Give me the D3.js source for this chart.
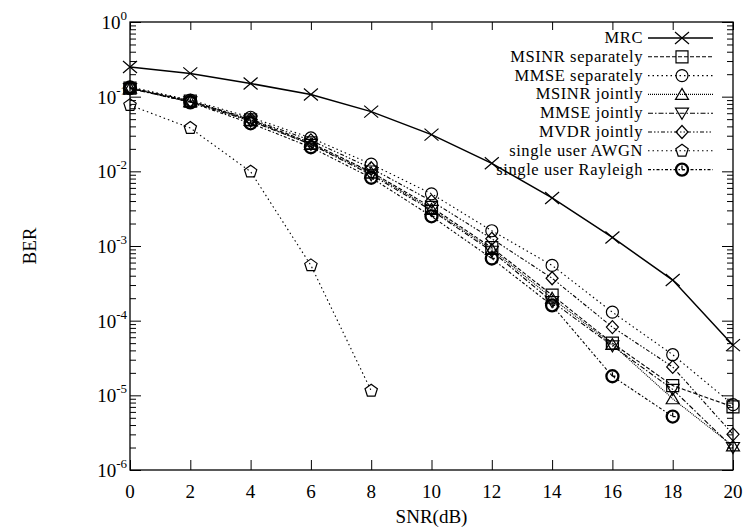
<!DOCTYPE html>
<html lang="en">
<head>
  <meta charset="UTF-8">
  <title>BER vs SNR</title>
  <style>
    body { margin: 0; background: #fff; }
    svg { font-family: "Liberation Serif", "DejaVu Serif", serif; }
    .axis path { display: none; }
    .axis line { stroke: #000; stroke-width: 1; }
  </style>
</head>
<body>
  <svg></svg>
  <script src="https://d3js.org/d3.v7.min.js"></script>
  <script>
    // values
    var snr = [0, 2, 4, 6, 8, 10, 12, 14, 16, 18, 20];
    var mrc        = [0.25, 0.205, 0.15, 0.107, 0.063, 0.031, 0.0128, 0.0044, 0.0013, 3.5e-4, 4.7e-5];
    var msinrSep   = [0.13, 0.087, 0.049, 0.024, 0.0098, 0.0033, 0.00095, 0.00022, 5.0e-5, 1.35e-5, 7.0e-6];
    var mmseSep    = [0.135, 0.09, 0.053, 0.028, 0.0125, 0.005, 0.0016, 0.00055, 1.3e-4, 3.5e-5, 7.5e-6];
    var msinrJoint = [0.13, 0.086, 0.048, 0.023, 0.0095, 0.0031, 0.0009, 0.0002, 4.8e-5, 9e-6, 2.1e-6];
    var mmseJoint  = [0.128, 0.085, 0.047, 0.023, 0.009, 0.003, 0.00085, 0.00018, 4.6e-5, 1.2e-5, 2.0e-6];
    var mvdrJoint  = [0.132, 0.088, 0.05, 0.026, 0.011, 0.004, 0.00125, 0.00037, 8.2e-5, 2.4e-5, 3.0e-6];
    var awgn       = [0.077, 0.038, 0.0099, 5.5e-4, 1.15e-5];
    var rayleigh   = [0.13, 0.084, 0.044, 0.021, 0.0082, 0.0025, 0.00068, 0.00016, 1.8e-5, 5.2e-6];

    var xTicks = [0, 2, 4, 6, 8, 10, 12, 14, 16, 18, 20];
    var yExps = [0, -1, -2, -3, -4, -5, -6];

    var series = [
      { name: "MRC", values: mrc, marker: "x", dash: null, width: 1.5 },
      { name: "MSINR separately", values: msinrSep, marker: "square", dash: "4,2" },
      { name: "MMSE separately", values: mmseSep, marker: "circle", dash: "1.5,3" },
      { name: "MSINR jointly", values: msinrJoint, marker: "triangle", dash: "1,1" },
      { name: "MMSE jointly", values: mmseJoint, marker: "triangleDown", dash: "5,2,1.5,2" },
      { name: "MVDR jointly", values: mvdrJoint, marker: "diamond", dash: "4,2,1.5,2,1.5,2" },
      { name: "single user AWGN", values: awgn, marker: "pentagon", dash: "1.5,3" },
      { name: "single user Rayleigh", values: rayleigh, marker: "rayleigh", dash: "3,2,1.5,2" }
    ];

    var width = 745;
    var height = 530;
    var pLeft = 130, pRight = 733, pTop = 22, pBottom = 470;

    var xScale = d3.scaleLinear().domain([0, 20]).range([pLeft, pRight]);
    var yScale = d3.scaleLog().domain([1e-6, 1]).range([pBottom, pTop]);

    var svg = d3.select("svg")
        .attr("width", width)
        .attr("height", height);

    // minor / major log ticks
    var majorY = yExps.map(e => Math.pow(10, e));
    var minorY = [];
    for (var e = -6; e < 0; e++) {
      for (var m = 2; m <= 9; m++) minorY.push(m * Math.pow(10, e));
    }

    svg.append("g").attr("class", "axis")
        .attr("transform", `translate(0,${pBottom})`)
        .call(d3.axisBottom(xScale).tickValues(xTicks).tickSize(-10).tickFormat(""));
    svg.append("g").attr("class", "axis")
        .attr("transform", `translate(0,${pTop})`)
        .call(d3.axisTop(xScale).tickValues(xTicks).tickSize(-8).tickFormat(""));
    svg.append("g").attr("class", "axis")
        .attr("transform", `translate(${pLeft},0)`)
        .call(d3.axisLeft(yScale).tickValues(majorY).tickSize(-11).tickFormat(""));
    svg.append("g").attr("class", "axis")
        .attr("transform", `translate(${pLeft},0)`)
        .call(d3.axisLeft(yScale).tickValues(minorY).tickSize(-6).tickFormat(""));
    svg.append("g").attr("class", "axis")
        .attr("transform", `translate(${pRight},0)`)
        .call(d3.axisRight(yScale).tickValues(majorY).tickSize(-11).tickFormat(""));
    svg.append("g").attr("class", "axis")
        .attr("transform", `translate(${pRight},0)`)
        .call(d3.axisRight(yScale).tickValues(minorY).tickSize(-6).tickFormat(""));

    svg.append("rect")
        .attr("x", pLeft).attr("y", pTop)
        .attr("width", pRight - pLeft).attr("height", pBottom - pTop)
        .attr("fill", "none").attr("stroke", "#000").attr("stroke-width", 1.3);

    // tick labels
    svg.selectAll(".xlabel")
      .data(xTicks)
      .enter()
      .append("text")
        .attr("x", d => xScale(d))
        .attr("y", pBottom + 28)
        .attr("text-anchor", "middle")
        .attr("font-size", 19)
        .text(d => d);

    var yl = svg.selectAll(".ylabel")
      .data(yExps)
      .enter()
      .append("text")
        .attr("x", pLeft - 3)
        .attr("y", d => yScale(Math.pow(10, d)) + 7)
        .attr("text-anchor", "end")
        .attr("font-size", 19);
    yl.append("tspan").text("10");
    yl.append("tspan")
        .attr("font-size", 13)
        .attr("dy", -9)
        .text(d => d === 0 ? "0" : "-" + (-d));

    svg.append("text")
        .attr("x", (pLeft + pRight) / 2)
        .attr("y", 523)
        .attr("text-anchor", "middle")
        .attr("font-size", 19)
        .text("SNR(dB)");

    svg.append("text")
        .attr("transform", `translate(36,${(pTop + pBottom) / 2}) rotate(-90)`)
        .attr("text-anchor", "middle")
        .attr("font-size", 19)
        .text("BER");

    // marker shapes
    function markerPath(type) {
      var s = 6;
      switch (type) {
        case "x": return "M-7,-6L7,6M-7,6L7,-6";
        case "square": return "M-6,-6H6V6H-6Z";
        case "triangle": return "M0,-6L6.5,5L-6.5,5Z";
        case "triangleDown": return "M0,6L6.5,-5L-6.5,-5Z";
        case "diamond": return "M0,-6.5L6,0L0,6.5L-6,0Z";
        case "pentagon":
          var pts = d3.range(5).map(i => {
            var a = -Math.PI / 2 + i * 2 * Math.PI / 5;
            return [6.5 * Math.cos(a), 6.5 * Math.sin(a)];
          });
          return "M" + pts.join("L") + "Z";
        case "circle":
        case "rayleigh":
          return "M" + s + ",0A" + s + "," + s + " 0 1,1 " + (-s) + ",0A" + s + "," + s + " 0 1,1 " + s + ",0Z";
      }
    }

    function drawMarker(g, type, x, y) {
      g.append("path")
          .attr("d", markerPath(type))
          .attr("transform", `translate(${x},${y})`)
          .attr("fill", "none")
          .attr("stroke", "#000")
          .attr("stroke-width", type === "rayleigh" ? 2.3 : 1.2);
      if (type === "rayleigh") {
        g.append("path")
            .attr("d", "M0,0L0,-4M0,0L3,0")
            .attr("transform", `translate(${x},${y})`)
            .attr("stroke", "#000")
            .attr("stroke-width", 1.3);
      }
    }

    var line = d3.line()
        .x(d => xScale(d[0]))
        .y(d => yScale(d[1]));

    series.forEach(function(s) {
      var pts = s.values.map((v, i) => [snr[i], v]);
      var g = svg.append("g");
      g.append("path")
          .attr("d", line(pts))
          .attr("fill", "none")
          .attr("stroke", "#000")
          .attr("stroke-width", s.width || 1.1)
          .attr("stroke-dasharray", s.dash);
      pts.forEach(p => drawMarker(g, s.marker, xScale(p[0]), yScale(p[1])));
    });

    // legend
    var legend = svg.append("g");
    series.forEach(function(s, i) {
      var yy = 38 + i * 18.8;
      legend.append("text")
          .attr("x", 643)
          .attr("y", yy + 5)
          .attr("text-anchor", "end")
          .attr("font-size", 16.5)
          .attr("letter-spacing", 0.6)
          .text(s.name);
      legend.append("line")
          .attr("x1", 648).attr("x2", 713)
          .attr("y1", yy).attr("y2", yy)
          .attr("stroke", "#000")
          .attr("stroke-width", s.width || 1.1)
          .attr("stroke-dasharray", s.dash);
      drawMarker(legend, s.marker, 682, yy);
    });
  </script>
</body>
</html>
